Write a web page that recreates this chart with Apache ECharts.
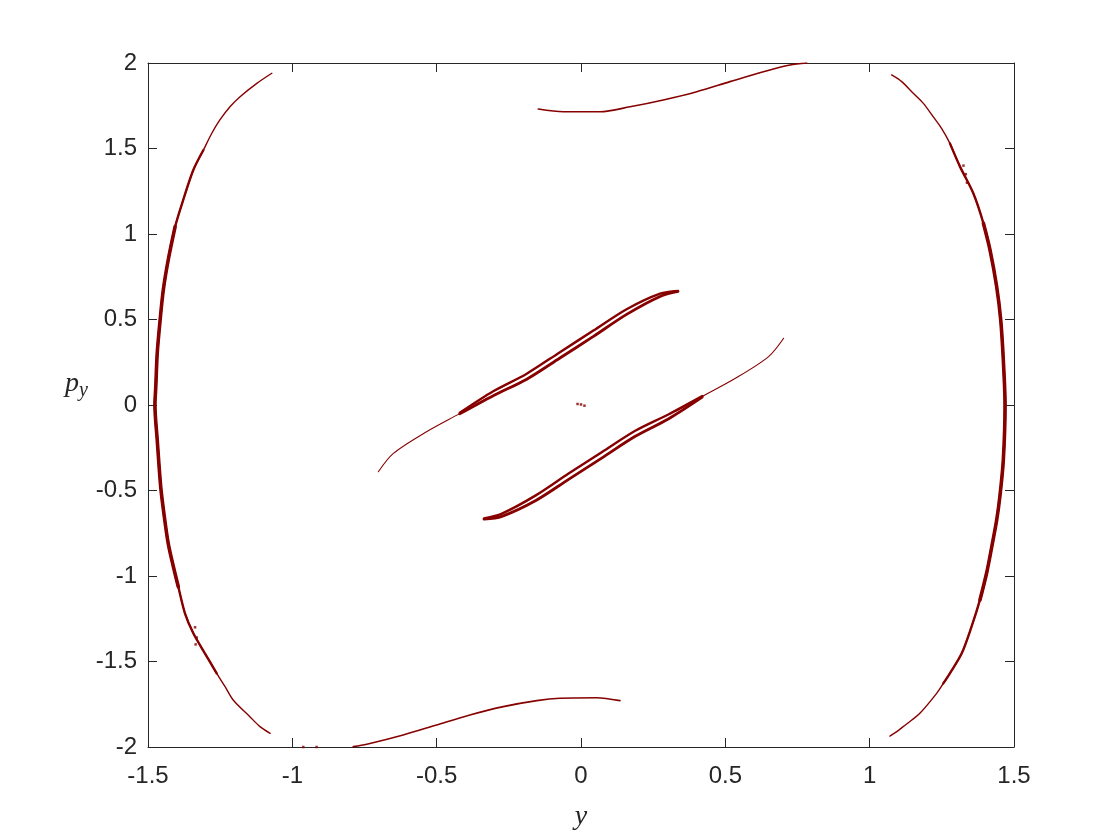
<!DOCTYPE html>
<html>
<head>
<meta charset="utf-8">
<script src="https://cdn.jsdelivr.net/npm/echarts@6/dist/echarts.min.js"></script>
<style>html,body{margin:0;padding:0;background:#fff}#c{width:1120px;height:840px}</style>
</head>
<body>
<div id="c"></div>
<script>
// ---- data (y, p_y) ----
const xTicks = [-1.5, -1, -0.5, 0, 0.5, 1, 1.5];
const yTicks = [-2, -1.5, -1, -0.5, 0, 0.5, 1, 1.5, 2];

const leftArc = [[-1.071,1.940],[-1.123,1.881],[-1.181,1.803],[-1.216,1.744],[-1.251,1.667],[-1.279,1.589],
  [-1.308,1.491],[-1.343,1.374],[-1.378,1.199],
  [-1.406,1.043],[-1.430,0.848],[-1.447,0.673],[-1.458,0.497],[-1.468,0.304],[-1.473,0.107],[-1.476,0],
  [-1.468,-0.205],[-1.456,-0.478],[-1.445,-0.633],[-1.430,-0.809],[-1.412,-0.946],[-1.395,-1.063],
  [-1.372,-1.218],[-1.343,-1.335],[-1.303,-1.452],[-1.262,-1.569],[-1.233,-1.647],[-1.205,-1.725],
  [-1.147,-1.823],[-1.112,-1.881],[-1.077,-1.920]];

const rightArc = [[1.076,1.930],[1.111,1.891],[1.151,1.823],[1.186,1.764],[1.220,1.686],[1.249,1.618],
  [1.278,1.530],[1.313,1.394],[1.359,1.238],
  [1.394,1.063],[1.417,0.906],[1.440,0.692],[1.454,0.497],[1.463,0.263],[1.469,0],[1.463,-0.322],
  [1.451,-0.536],[1.440,-0.673],[1.423,-0.829],[1.405,-0.984],[1.382,-1.140],[1.353,-1.296],
  [1.319,-1.452],[1.278,-1.569],[1.255,-1.628],[1.232,-1.686],[1.174,-1.803],[1.146,-1.842],
  [1.116,-1.881],[1.094,-1.910],[1.070,-1.936]];

const topCurve = [[-0.148,1.731],[-0.061,1.715],[0.066,1.715],[0.170,1.744],[0.285,1.784],[0.401,1.832],
  [0.516,1.891],[0.632,1.949],[0.724,1.988],[0.782,2.0]];

const bottomCurve = [[-0.789,-1.998],[-0.742,-1.984],[-0.616,-1.930],[-0.500,-1.871],[-0.385,-1.813],
  [-0.269,-1.764],[-0.153,-1.729],[-0.073,-1.715],[0.054,-1.712],[0.135,-1.729]];

const upperTail = [[-0.702,-0.390],[-0.650,-0.283],[-0.535,-0.156],[-0.419,-0.049],[-0.330,0.035]];
const upperBandA = [[-0.420,-0.046],[-0.304,0.080],[-0.188,0.183],[-0.073,0.309],[0.043,0.435],
  [0.158,0.560],[0.274,0.651],[0.336,0.667]];
const upperBandB = [[-0.420,-0.052],[-0.304,0.054],[-0.188,0.151],[-0.073,0.275],[0.043,0.401],
  [0.158,0.530],[0.274,0.635],[0.336,0.664]];

const lowerTail = [[0.702,0.390],[0.650,0.283],[0.535,0.156],[0.419,0.049],[0.330,-0.035]];
const lowerBandA = [[0.420,0.046],[0.304,-0.080],[0.188,-0.183],[0.073,-0.309],[-0.043,-0.435],
  [-0.158,-0.560],[-0.274,-0.651],[-0.336,-0.667]];
const lowerBandB = [[0.420,0.052],[0.304,-0.054],[0.188,-0.151],[0.073,-0.275],[-0.043,-0.401],
  [-0.158,-0.530],[-0.274,-0.635],[-0.336,-0.664]];

const strayPoints = [[-0.962,-2.0],[-0.916,-2.0],[-1.337,-1.30],[-1.331,-1.36],[-1.335,-1.40],
  [1.325,1.40],[1.333,1.35],[1.337,1.30],[-0.012,0.006],[0.0,0.003],[0.012,-0.004]];

// ---- chart ----
const RED = '#860000';
function line(data, w, smooth) {
  return { type: 'line', data: data, symbol: 'none', smooth: smooth === undefined ? 0.3 : smooth,
    lineStyle: { color: RED, width: w, cap: 'round' }, silent: true, animation: false, z: 3 };
}
const seg = (a, i, j) => a.slice(i, j + 1);

const series = [
  line(leftArc, 1.4), line(seg(leftArc, 6, 25), 2.4), line(seg(leftArc, 9, 21), 3.6),
  line(rightArc, 1.4), line(seg(rightArc, 6, 24), 2.4), line(seg(rightArc, 9, 20), 3.6),
  line(topCurve, 1.6), line(bottomCurve, 1.6),
  line(upperTail, 1.1), line(upperBandA, 2.4), line(upperBandB, 2.8),
  line(lowerTail, 1.1), line(lowerBandA, 2.8), line(lowerBandB, 2.4),
  { type: 'scatter', data: strayPoints, symbol: 'rect', symbolSize: 2.5,
    itemStyle: { color: RED }, silent: true, animation: false }
];

const axisCommon = {
  type: 'value',
  axisLine: { show: true, onZero: false, lineStyle: { color: '#262626', width: 1 } },
  axisTick: { show: true, inside: true, length: 9, lineStyle: { color: '#262626', width: 1 } },
  splitLine: { show: false }
};
const labelStyle = { color: '#262626', fontSize: 24, fontFamily: 'Liberation Sans, Arial, sans-serif' };

const chart = echarts.init(document.getElementById('c'), null, { renderer: 'canvas' });
chart.setOption({
  backgroundColor: '#ffffff',
  animation: false,
  grid: { left: 148, right: 106, top: 63, bottom: 93, containLabel: false },
  xAxis: [
    Object.assign({}, axisCommon, { position: 'bottom', min: xTicks[0], max: xTicks[xTicks.length - 1], interval: 0.5,
      axisLabel: Object.assign({ margin: 17 }, labelStyle),
      name: 'y', nameLocation: 'middle', nameGap: 56,
      nameTextStyle: { fontFamily: 'Liberation Serif, serif', fontStyle: 'italic', fontSize: 28, color: '#262626' } }),
    Object.assign({}, axisCommon, { position: 'top', min: xTicks[0], max: xTicks[xTicks.length - 1], interval: 0.5,
      axisLabel: { show: false } })
  ],
  yAxis: [
    Object.assign({}, axisCommon, { position: 'left', min: yTicks[0], max: yTicks[yTicks.length - 1], interval: 0.5,
      axisLabel: Object.assign({ margin: 11 }, labelStyle),
      name: '{p|p}{s|y}', nameLocation: 'middle', nameRotate: 0, nameGap: 60,
      nameTextStyle: { padding: [0, 0, 42, 0],
        rich: {
          p: { fontFamily: 'Liberation Serif, serif', fontStyle: 'italic', fontSize: 28, color: '#262626' },
          s: { fontFamily: 'Liberation Serif, serif', fontStyle: 'italic', fontSize: 20, color: '#262626', padding: [14, 0, 0, 0] }
        } } }),
    Object.assign({}, axisCommon, { position: 'right', min: yTicks[0], max: yTicks[yTicks.length - 1], interval: 0.5,
      axisLabel: { show: false } })
  ],
  series: series
});
</script>
</body>
</html>
